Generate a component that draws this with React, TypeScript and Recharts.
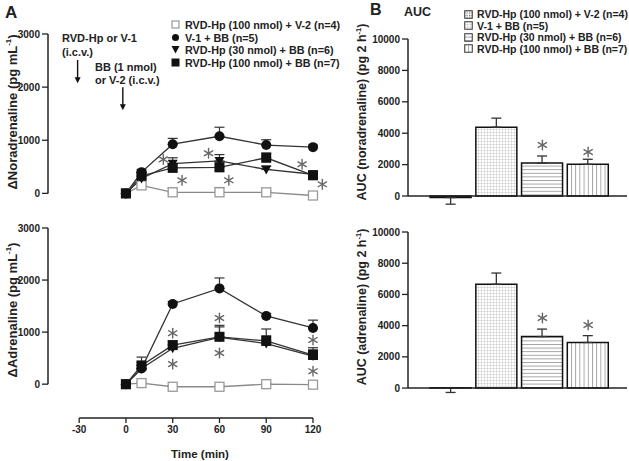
import React from 'react';
import { ComposedChart, Line, Bar, Cell, XAxis, YAxis, ErrorBar, ReferenceLine, ReferenceDot } from 'recharts';

// ---------- data ----------
const times = [0, 10, 30, 60, 90, 120];
const seriesNames = [
  'RVD-Hp (100 nmol) + V-2 (n=4)',
  'V-1 + BB (n=5)',
  'RVD-Hp (30 nmol) + BB (n=6)',
  'RVD-Hp (100 nmol) + BB (n=7)',
];
// noradrenaline (pg/mL)
const norOpen = [0, 150, 20, 20, 20, -40];
const norOpenErr = [0, 40, 80, 90, 30, 20];
const norCircle = [0, 400, 925, 1075, 910, 870];
const norCircleErr = [0, 50, 110, 170, 100, 40];
const norTri = [0, 280, 560, 610, 450, 360];
const norTriErr = [0, 40, 110, 120, 60, 40];
const norSq = [0, 330, 480, 490, 670, 340];
const norSqErr = [0, 60, 80, 100, 90, 50];
// adrenaline (pg/mL)
const adrOpen = [0, 20, -50, -50, 0, -10];
const adrOpenErr = [0, 20, 20, 20, 20, 20];
const adrCircle = [0, 300, 1540, 1840, 1310, 1080];
const adrCircleErr = [0, 60, 50, 200, 50, 150];
const adrTri = [0, 300, 690, 900, 780, 540];
const adrTriErr = [0, 120, 80, 200, 150, 120];
const adrSq = [0, 360, 750, 910, 830, 560];
const adrSqErr = [0, 160, 80, 220, 230, 140];

const norStars = [
  { t: 24, y: 640 }, { t: 36, y: 245 }, { t: 53, y: 755 },
  { t: 66, y: 245 }, { t: 113, y: 547 }, { t: 126, y: 170 },
];
const adrStars = [
  { t: 30, y: 980 }, { t: 30, y: 385 }, { t: 60, y: 1270 },
  { t: 60, y: 600 }, { t: 120, y: 850 }, { t: 120, y: 250 },
];

// AUC (pg 2 h^-1)
const groupIdx = [0, 1, 2, 3];
const norAuc = [-100, 4380, 2100, 2020];
const norAucErr: [number, number][] = [[420, 0], [0, 580], [0, 450], [0, 320]];
const adrAuc = [20, 6650, 3300, 2920];
const adrAucErr: [number, number][] = [[300, 0], [0, 720], [0, 480], [0, 440]];
const norAucStars = [null, null, 3250, 2800];
const adrAucStars = [null, null, 4490, 4040];

const timeTicks = [-30, 0, 30, 60, 90, 120];
const concTicks = [0, 1000, 2000, 3000];
const aucTicks = [0, 2000, 4000, 6000, 8000, 10000];

// ---------- helpers ----------
const FONT = '"Liberation Sans", Arial, sans-serif';
const INK = '#222';
const patternIds = ['pDots', 'pGrid', 'pHoriz', 'pVert'];

const buildLine = (o: number[], oe: number[], c: number[], ce: number[], tr: number[], te: number[], s: number[], se: number[]) =>
  times.map((t, i) => ({
    t,
    s0: o[i], e0: [0, oe[i]],
    s1: c[i], e1: [0, ce[i]],
    s2: tr[i], e2: [0, te[i]],
    s3: s[i], e3: [0, se[i]],
  }));

const norData = buildLine(norOpen, norOpenErr, norCircle, norCircleErr, norTri, norTriErr, norSq, norSqErr);
const adrData = buildLine(adrOpen, adrOpenErr, adrCircle, adrCircleErr, adrTri, adrTriErr, adrSq, adrSqErr);

const norAucData = groupIdx.map((g, i) => ({ g, v: norAuc[i], e: norAucErr[i] }));
const adrAucData = groupIdx.map((g, i) => ({ g, v: adrAuc[i], e: adrAucErr[i] }));

const OpenSq = (p: any) => p.cx == null ? <g key={`o${p.index}`} /> :
  <rect key={`o${p.index}`} x={p.cx - 4.5} y={p.cy - 4.5} width={9} height={9} fill="#fff" stroke="#9a9a9a" strokeWidth={1.3} />;
const CircleDot = (p: any) => p.cx == null ? <g key={`c${p.index}`} /> :
  <circle key={`c${p.index}`} cx={p.cx} cy={p.cy} r={5} fill="#111" />;
const TriDot = (p: any) => p.cx == null ? <g key={`t${p.index}`} /> :
  <path key={`t${p.index}`} d={`M${p.cx - 5},${p.cy - 4} L${p.cx + 5},${p.cy - 4} L${p.cx},${p.cy + 5} Z`} fill="#111" />;
const SqDot = (p: any) => p.cx == null ? <g key={`s${p.index}`} /> :
  <rect key={`s${p.index}`} x={p.cx - 5} y={p.cy - 5} width={10} height={10} fill="#111" />;

const Star = (p: any) => {
  const { cx, cy } = p;
  if (cx == null) return <g />;
  const r = 4.8;
  const a = r * Math.cos(Math.PI / 6);
  const b = r * Math.sin(Math.PI / 6);
  return (
    <g stroke="#666" strokeWidth={1.4} strokeLinecap="round">
      <line x1={cx} y1={cy - r} x2={cx} y2={cy + r} />
      <line x1={cx - a} y1={cy - b} x2={cx + a} y2={cy + b} />
      <line x1={cx - a} y1={cy + b} x2={cx + a} y2={cy - b} />
    </g>
  );
};

const Arrow = (p: any) => {
  const { x1, y1, x2, y2 } = p;
  return (
    <g>
      <line x1={x1} y1={y1} x2={x2} y2={y2 - 5} stroke="#111" strokeWidth={1.4} />
      <path d={`M${x2 - 3},${y2 - 6} L${x2 + 3},${y2 - 6} L${x2},${y2} Z`} fill="#111" />
    </g>
  );
};

const tickStyle = { fontSize: 10, fontWeight: 'bold' as const, fill: INK, fontFamily: FONT };

const lineSeries = () => [
  <Line key="l0" dataKey="s0" stroke="#8a8a8a" strokeWidth={1.3} dot={OpenSq} isAnimationActive={false}>
    <ErrorBar dataKey="e0" direction="y" width={5} stroke="#777" strokeWidth={1.2} />
  </Line>,
  <Line key="l2" dataKey="s2" stroke="#333" strokeWidth={1.3} dot={TriDot} isAnimationActive={false}>
    <ErrorBar dataKey="e2" direction="y" width={5} stroke="#333" strokeWidth={1.2} />
  </Line>,
  <Line key="l1" dataKey="s1" stroke="#333" strokeWidth={1.3} dot={CircleDot} isAnimationActive={false}>
    <ErrorBar dataKey="e1" direction="y" width={5} stroke="#333" strokeWidth={1.2} />
  </Line>,
  <Line key="l3" dataKey="s3" stroke="#333" strokeWidth={1.3} dot={SqDot} isAnimationActive={false}>
    <ErrorBar dataKey="e3" direction="y" width={5} stroke="#333" strokeWidth={1.2} />
  </Line>,
];

const VLabel = ({ cx, cy, size, children }: any) => (
  <div style={{
    position: 'absolute', left: cx, top: cy, transform: 'translate(-50%, -50%) rotate(-90deg)',
    whiteSpace: 'nowrap', fontFamily: FONT, fontWeight: 'bold', fontSize: size, color: INK, lineHeight: 1,
  }}>{children}</div>
);

const Txt = ({ x, y, size, children, weight = 'bold' }: any) => (
  <div style={{
    position: 'absolute', left: x, top: y, whiteSpace: 'nowrap', fontFamily: FONT,
    fontWeight: weight, fontSize: size, color: INK, lineHeight: 1,
  }}>{children}</div>
);

const legendMarkers = [
  <rect key="a" x={1} y={1} width={7} height={7} fill="#fff" stroke="#9a9a9a" strokeWidth={1.2} />,
  <circle key="b" cx={4.5} cy={4.5} r={3.5} fill="#111" />,
  <path key="c" d="M0.5,1 L8.5,1 L4.5,8.5 Z" fill="#111" />,
  <rect key="d" x={0.5} y={0.5} width={8} height={8} fill="#111" />,
];

export default function App() {
  return (
    <div style={{ position: 'absolute', left: 0, top: 0, width: 629, height: 461, background: '#fff', overflow: 'hidden' }}>
      <svg width={0} height={0} style={{ position: 'absolute' }}>
        <defs>
          <pattern id="pDots" width={2.5} height={2.5} patternUnits="userSpaceOnUse">
            <rect width={2.5} height={2.5} fill="#fff" />
            <rect width={1.2} height={1.2} fill="#666" />
          </pattern>
          <pattern id="pGrid" width={3} height={3} patternUnits="userSpaceOnUse">
            <rect width={3} height={3} fill="#fff" />
            <path d="M0,0.3 H3 M0.3,0 V3" stroke="#c4c4c4" strokeWidth={0.6} />
          </pattern>
          <pattern id="pHoriz" width={4} height={3.6} patternUnits="userSpaceOnUse">
            <rect width={4} height={3.6} fill="#fff" />
            <path d="M0,0.5 H4" stroke="#888" strokeWidth={0.8} />
          </pattern>
          <pattern id="pVert" width={4.2} height={4} patternUnits="userSpaceOnUse">
            <rect width={4.2} height={4} fill="#fff" />
            <path d="M0.5,0 V4" stroke="#888" strokeWidth={0.8} />
          </pattern>
        </defs>
      </svg>

      {/* Panel A top: noradrenaline */}
      <div style={{ position: 'absolute', left: 0, top: 0 }}>
        <ComposedChart width={340} height={210} data={norData} margin={{ top: 34, right: 27, bottom: 6, left: 8 }}>
          <XAxis dataKey="t" type="number" domain={[-50, 120]} hide />
          <YAxis type="number" domain={[-200, 3000]} ticks={concTicks} width={40} axisLine={false}
            tickLine={{ stroke: INK, strokeWidth: 1.3 }} tickSize={6} tickMargin={2} tick={tickStyle} interval={0} />
          <ReferenceLine segment={[{ x: -50, y: 0 }, { x: -50, y: 3000 }]} stroke={INK} strokeWidth={1.5} ifOverflow="visible" />
          <ReferenceLine segment={[{ x: -31, y: 2510 }, { x: -31, y: 2075 }]} shape={Arrow} ifOverflow="visible" />
          <ReferenceLine segment={[{ x: -2, y: 2000 }, { x: -2, y: 1566 }]} shape={Arrow} ifOverflow="visible" />
          {lineSeries()}
          {norStars.map((s, i) => (
            <ReferenceDot key={`ns${i}`} x={s.t} y={s.y} r={4} shape={Star} ifOverflow="visible" />
          ))}
        </ComposedChart>
      </div>

      {/* Panel A bottom: adrenaline */}
      <div style={{ position: 'absolute', left: 0, top: 200 }}>
        <ComposedChart width={340} height={261} data={adrData} margin={{ top: 28, right: 27, bottom: 18, left: 8 }}>
          <XAxis dataKey="t" type="number" domain={[-50, 120]} ticks={timeTicks} interval={0} axisLine={false}
            tickLine={{ stroke: INK, strokeWidth: 1.3 }} tickSize={5} tickMargin={3} tick={tickStyle} height={25} />
          <YAxis type="number" domain={[-650, 3000]} ticks={concTicks} width={40} axisLine={false}
            tickLine={{ stroke: INK, strokeWidth: 1.3 }} tickSize={6} tickMargin={2} tick={tickStyle} interval={0} />
          <ReferenceLine segment={[{ x: -50, y: 0 }, { x: -50, y: 3000 }]} stroke={INK} strokeWidth={1.5} ifOverflow="visible" />
          <ReferenceLine segment={[{ x: -30, y: -650 }, { x: 120, y: -650 }]} stroke={INK} strokeWidth={1.5} ifOverflow="visible" />
          {lineSeries()}
          {adrStars.map((s, i) => (
            <ReferenceDot key={`as${i}`} x={s.t} y={s.y} r={4} shape={Star} ifOverflow="visible" />
          ))}
        </ComposedChart>
      </div>

      {/* Panel B top */}
      <div style={{ position: 'absolute', left: 340, top: 0 }}>
        <ComposedChart width={289} height={210} data={norAucData} margin={{ top: 39, right: 2, bottom: 3, left: 28 }}>
          <XAxis dataKey="g" type="number" domain={[-0.94, 3.85]} hide />
          <YAxis type="number" domain={[-700, 10000]} ticks={aucTicks} width={40} axisLine={false}
            tickLine={{ stroke: INK, strokeWidth: 1.3 }} tickSize={6} tickMargin={2} tick={tickStyle} interval={0} />
          <Bar dataKey="v" barSize={41} stroke="#111" strokeWidth={1.5} isAnimationActive={false}>
            {norAucData.map((d, i) => <Cell key={i} fill={`url(#${patternIds[i]})`} />)}
            <ErrorBar dataKey="e" direction="y" width={5} stroke="#333" strokeWidth={1.3} />
          </Bar>
          <ReferenceLine y={0} stroke={INK} strokeWidth={1.5} ifOverflow="visible" />
          <ReferenceLine segment={[{ x: -0.94, y: 0 }, { x: -0.94, y: 10000 }]} stroke={INK} strokeWidth={1.5} ifOverflow="visible" />
          {norAucStars.map((v, i) => v == null ? null : (
            <ReferenceDot key={`nb${i}`} x={groupIdx[i]} y={v} r={4} shape={Star} ifOverflow="visible" />
          ))}
        </ComposedChart>
      </div>

      {/* Panel B bottom */}
      <div style={{ position: 'absolute', left: 340, top: 200 }}>
        <ComposedChart width={289} height={261} data={adrAucData} margin={{ top: 32, right: 2, bottom: 62, left: 28 }}>
          <XAxis dataKey="g" type="number" domain={[-0.94, 3.85]} hide />
          <YAxis type="number" domain={[-700, 10000]} ticks={aucTicks} width={40} axisLine={false}
            tickLine={{ stroke: INK, strokeWidth: 1.3 }} tickSize={6} tickMargin={2} tick={tickStyle} interval={0} />
          <Bar dataKey="v" barSize={41} stroke="#111" strokeWidth={1.5} isAnimationActive={false}>
            {adrAucData.map((d, i) => <Cell key={i} fill={`url(#${patternIds[i]})`} />)}
            <ErrorBar dataKey="e" direction="y" width={5} stroke="#333" strokeWidth={1.3} />
          </Bar>
          <ReferenceLine y={0} stroke={INK} strokeWidth={1.5} ifOverflow="visible" />
          <ReferenceLine segment={[{ x: -0.94, y: 0 }, { x: -0.94, y: 10000 }]} stroke={INK} strokeWidth={1.5} ifOverflow="visible" />
          {adrAucStars.map((v, i) => v == null ? null : (
            <ReferenceDot key={`ab${i}`} x={groupIdx[i]} y={v} r={4} shape={Star} ifOverflow="visible" />
          ))}
        </ComposedChart>
      </div>

      {/* Titles and annotations */}
      <Txt x={5} y={4} size={17}>A</Txt>
      <Txt x={370} y={2} size={16}>B</Txt>
      <Txt x={404} y={6} size={12.5}>AUC</Txt>
      <Txt x={62} y={33} size={11}>RVD-Hp or V-1</Txt>
      <Txt x={62} y={47} size={11}>(i.c.v.)</Txt>
      <Txt x={95} y={62} size={11}>BB (1 nmol)</Txt>
      <Txt x={95} y={75} size={11}>or V-2 (i.c.v.)</Txt>

      <VLabel cx={12} cy={112} size={13}>ΔNoradrenaline (pg mL<sup style={{ fontSize: '0.6em' }}>-1</sup>)</VLabel>
      <VLabel cx={12} cy={310} size={13}>ΔAdrenaline (pg mL<sup style={{ fontSize: '0.6em' }}>-1</sup>)</VLabel>
      <VLabel cx={362} cy={112} size={12.5}>AUC (noradrenaline) (pg 2 h<sup style={{ fontSize: '0.6em' }}>-1</sup>)</VLabel>
      <VLabel cx={362} cy={307} size={12.5}>AUC (adrenaline) (pg 2 h<sup style={{ fontSize: '0.6em' }}>-1</sup>)</VLabel>
      <Txt x={171} y={449} size={11.5}>Time (min)</Txt>

      {/* Legend A */}
      {seriesNames.map((n, i) => (
        <div key={`la${i}`} style={{ position: 'absolute', left: 171, top: 19 + i * 12.7, display: 'flex', alignItems: 'center', height: 12 }}>
          <svg width={10} height={10} style={{ marginRight: 4 }}>{legendMarkers[i]}</svg>
          <span style={{ fontFamily: FONT, fontWeight: 'bold', fontSize: 10.8, color: INK, whiteSpace: 'nowrap' }}>{n}</span>
        </div>
      ))}
      {/* Legend B */}
      {seriesNames.map((n, i) => (
        <div key={`lb${i}`} style={{ position: 'absolute', left: 464, top: 8 + i * 11.6, display: 'flex', alignItems: 'center', height: 12 }}>
          <svg width={9} height={9} style={{ marginRight: 4 }}>
            <rect x={0.75} y={0.75} width={7.5} height={7.5} fill={`url(#${patternIds[i]})`} stroke="#333" strokeWidth={1} />
          </svg>
          <span style={{ fontFamily: FONT, fontWeight: 'bold', fontSize: 10.5, color: INK, whiteSpace: 'nowrap' }}>{n}</span>
        </div>
      ))}
    </div>
  );
}
